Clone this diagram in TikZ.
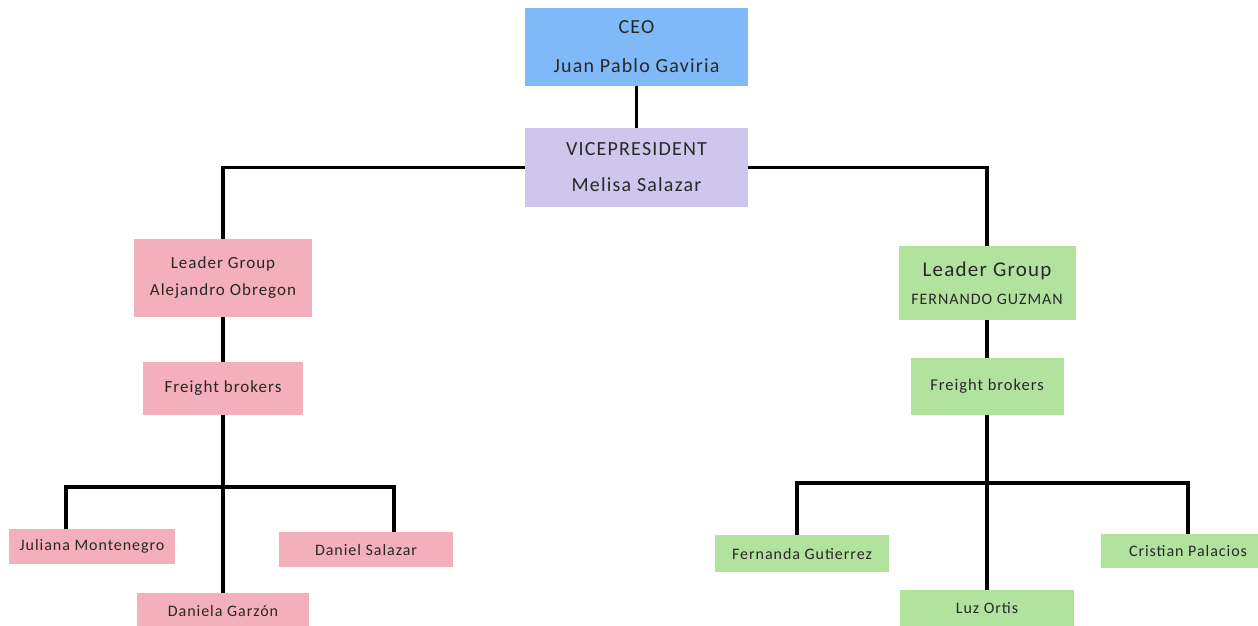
\documentclass[tikz,border=0pt]{standalone}
\usepackage{fontspec}
\setmainfont{Carlito}[LetterSpace=6]
\definecolor{ceoblue}{RGB}{128,185,247}
\definecolor{vplav}{RGB}{206,198,236}
\definecolor{pinkbox}{RGB}{243,175,188}
\definecolor{greenbox}{RGB}{178,227,158}
\definecolor{txt}{RGB}{40,40,40}
\tikzset{
  box/.style={fill=#1, draw=none, text=txt, align=center, inner sep=0pt},
  link/.style={draw=black, line width=3.5pt, line join=miter},
}
\newcommand{\fs}[2]{\fontsize{#1}{#2}\selectfont}
\begin{document}
\begin{tikzpicture}[x=1pt,y=-1pt]
\clip (0,0) rectangle (1258,625);
\fill[white] (0,0) rectangle (1258,625);
% top
\node[box=ceoblue, minimum width=223pt, minimum height=78pt, font=\fs{20}{39}] (ceo) at (636.5,47) {CEO\\Juan Pablo Gaviria};
\node[box=vplav, minimum width=223pt, minimum height=79pt, font=\fs{20}{36}] (vp) at (636.5,167.5) {VICEPRESIDENT\\Melisa Salazar};
% left branch
\node[box=pinkbox, minimum width=178pt, minimum height=78pt, font=\fs{17}{27}] (ldL) at (223,278) {Leader Group\\Alejandro Obregon};
\node[box=pinkbox, minimum width=160pt, minimum height=53pt, font=\fs{17}{20}] (fbL) at (223,388.5) {Freight brokers};
\node[box=pinkbox, minimum width=166pt, minimum height=35pt, font=\fs{16}{20}] (jul) at (92,546.5) {Juliana Montenegro};
\node[box=pinkbox, minimum width=174pt, minimum height=35pt, font=\fs{16}{20}] (dsal) at (366,549.5) {Daniel Salazar};
\node[box=pinkbox, minimum width=172pt, minimum height=36pt, font=\fs{16}{20}] (dgar) at (223,611) {Daniela Garzón};
% right branch
\node[box=greenbox, minimum width=177pt, minimum height=74pt, font=\fs{21}{28}] (ldR) at (987,283) {Leader Group\\{\fs{16}{28}FERNANDO GUZMAN}};
\node[box=greenbox, minimum width=153pt, minimum height=57pt, font=\fs{16.5}{20}] (fbR) at (987,386.5) {Freight brokers};
\node[box=greenbox, minimum width=174pt, minimum height=37pt, font=\fs{16}{20}] (fgut) at (802,553.5) {Fernanda Gutierrez};
\node[box=greenbox, minimum width=174pt, minimum height=34pt, font=\fs{16}{20}] (cpal) at (1188,551) {Cristian Palacios};
\node[box=greenbox, minimum width=174pt, minimum height=36pt, font=\fs{16}{20}] (luz) at (987,608) {Luz Ortis};
% junctions
\coordinate (busL) at (223,487);
\coordinate (busR) at (987,483);
% connectors
\draw[link] (ceo.south) -- (vp.north);
\draw[link] (vp.west) -| (ldL.north);
\draw[link] (vp.east) -| (ldR.north);
\draw[link] (ldL.south) -- (fbL.north);
\draw[link] (ldR.south) -- (fbR.north);
\draw[link] (fbL.south) -- (dgar.north);
\draw[link] ([xshift=-26pt]jul.north) |- (busL) -| ([xshift=28pt]dsal.north);
\draw[link] (fbR.south) -- (luz.north);
\draw[link] ([xshift=-5pt]fgut.north) |- (busR) -| (cpal.north);
\end{tikzpicture}
\end{document}
